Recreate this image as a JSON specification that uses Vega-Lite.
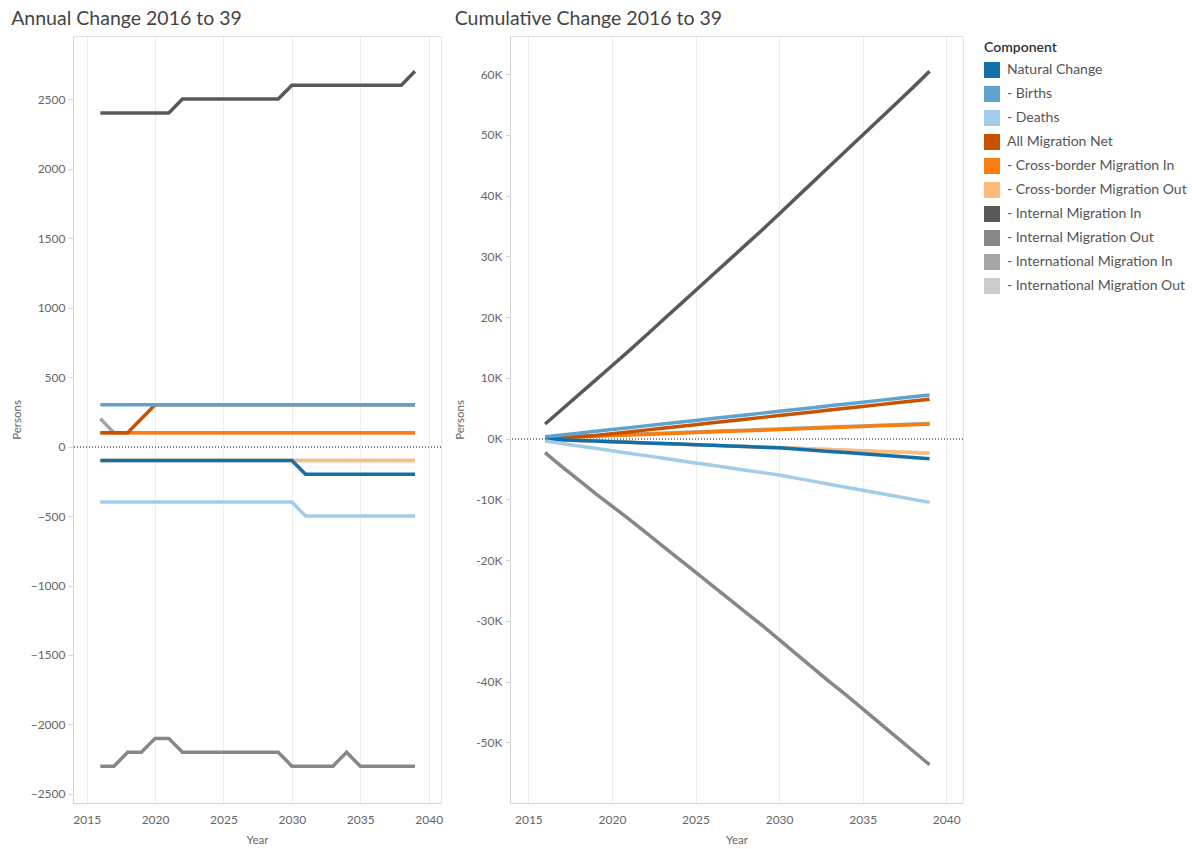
{
  "$schema": "https://vega.github.io/schema/vega-lite/v6.json",
  "padding": {"left": 10, "top": 8, "right": 2, "bottom": 0},
  "background": "white",
  "config": {
    "font": "Lato",
    "view": {"stroke": "#e2e2e2"},
    "axis": {"labelColor": "#666", "titleColor": "#666", "labelFontSize": 12, "titleFontSize": 11.5, "titleFontWeight": "normal", "gridColor": "#ececec", "domainColor": "#d4d4d4", "tickColor": "#d4d4d4", "labelFont": "Lato", "titleFont": "Lato"},
    "title": {"fontSize": 19.5, "fontWeight": "normal", "color": "#444", "anchor": "start", "frame": "bounds", "offset": 7, "font": "Lato"},
    "concat": {"spacing": 10}
  },
  "datasets": {
    "pop": [
      {"Year":2016,"Component":"Natural Change","Annual":-100,"Cumulative":-100},
      {"Year":2017,"Component":"Natural Change","Annual":-100,"Cumulative":-200},
      {"Year":2018,"Component":"Natural Change","Annual":-100,"Cumulative":-300},
      {"Year":2019,"Component":"Natural Change","Annual":-100,"Cumulative":-400},
      {"Year":2020,"Component":"Natural Change","Annual":-100,"Cumulative":-500},
      {"Year":2021,"Component":"Natural Change","Annual":-100,"Cumulative":-600},
      {"Year":2022,"Component":"Natural Change","Annual":-100,"Cumulative":-700},
      {"Year":2023,"Component":"Natural Change","Annual":-100,"Cumulative":-800},
      {"Year":2024,"Component":"Natural Change","Annual":-100,"Cumulative":-900},
      {"Year":2025,"Component":"Natural Change","Annual":-100,"Cumulative":-1000},
      {"Year":2026,"Component":"Natural Change","Annual":-100,"Cumulative":-1100},
      {"Year":2027,"Component":"Natural Change","Annual":-100,"Cumulative":-1200},
      {"Year":2028,"Component":"Natural Change","Annual":-100,"Cumulative":-1300},
      {"Year":2029,"Component":"Natural Change","Annual":-100,"Cumulative":-1400},
      {"Year":2030,"Component":"Natural Change","Annual":-100,"Cumulative":-1500},
      {"Year":2031,"Component":"Natural Change","Annual":-200,"Cumulative":-1700},
      {"Year":2032,"Component":"Natural Change","Annual":-200,"Cumulative":-1900},
      {"Year":2033,"Component":"Natural Change","Annual":-200,"Cumulative":-2100},
      {"Year":2034,"Component":"Natural Change","Annual":-200,"Cumulative":-2300},
      {"Year":2035,"Component":"Natural Change","Annual":-200,"Cumulative":-2500},
      {"Year":2036,"Component":"Natural Change","Annual":-200,"Cumulative":-2700},
      {"Year":2037,"Component":"Natural Change","Annual":-200,"Cumulative":-2900},
      {"Year":2038,"Component":"Natural Change","Annual":-200,"Cumulative":-3100},
      {"Year":2039,"Component":"Natural Change","Annual":-200,"Cumulative":-3300},

      {"Year":2016,"Component":"- Births","Annual":300,"Cumulative":300},
      {"Year":2017,"Component":"- Births","Annual":300,"Cumulative":600},
      {"Year":2018,"Component":"- Births","Annual":300,"Cumulative":900},
      {"Year":2019,"Component":"- Births","Annual":300,"Cumulative":1200},
      {"Year":2020,"Component":"- Births","Annual":300,"Cumulative":1500},
      {"Year":2021,"Component":"- Births","Annual":300,"Cumulative":1800},
      {"Year":2022,"Component":"- Births","Annual":300,"Cumulative":2100},
      {"Year":2023,"Component":"- Births","Annual":300,"Cumulative":2400},
      {"Year":2024,"Component":"- Births","Annual":300,"Cumulative":2700},
      {"Year":2025,"Component":"- Births","Annual":300,"Cumulative":3000},
      {"Year":2026,"Component":"- Births","Annual":300,"Cumulative":3300},
      {"Year":2027,"Component":"- Births","Annual":300,"Cumulative":3600},
      {"Year":2028,"Component":"- Births","Annual":300,"Cumulative":3900},
      {"Year":2029,"Component":"- Births","Annual":300,"Cumulative":4200},
      {"Year":2030,"Component":"- Births","Annual":300,"Cumulative":4500},
      {"Year":2031,"Component":"- Births","Annual":300,"Cumulative":4800},
      {"Year":2032,"Component":"- Births","Annual":300,"Cumulative":5100},
      {"Year":2033,"Component":"- Births","Annual":300,"Cumulative":5400},
      {"Year":2034,"Component":"- Births","Annual":300,"Cumulative":5700},
      {"Year":2035,"Component":"- Births","Annual":300,"Cumulative":6000},
      {"Year":2036,"Component":"- Births","Annual":300,"Cumulative":6300},
      {"Year":2037,"Component":"- Births","Annual":300,"Cumulative":6600},
      {"Year":2038,"Component":"- Births","Annual":300,"Cumulative":6900},
      {"Year":2039,"Component":"- Births","Annual":300,"Cumulative":7200},

      {"Year":2016,"Component":"- Deaths","Annual":-400,"Cumulative":-400},
      {"Year":2017,"Component":"- Deaths","Annual":-400,"Cumulative":-800},
      {"Year":2018,"Component":"- Deaths","Annual":-400,"Cumulative":-1200},
      {"Year":2019,"Component":"- Deaths","Annual":-400,"Cumulative":-1600},
      {"Year":2020,"Component":"- Deaths","Annual":-400,"Cumulative":-2000},
      {"Year":2021,"Component":"- Deaths","Annual":-400,"Cumulative":-2400},
      {"Year":2022,"Component":"- Deaths","Annual":-400,"Cumulative":-2800},
      {"Year":2023,"Component":"- Deaths","Annual":-400,"Cumulative":-3200},
      {"Year":2024,"Component":"- Deaths","Annual":-400,"Cumulative":-3600},
      {"Year":2025,"Component":"- Deaths","Annual":-400,"Cumulative":-4000},
      {"Year":2026,"Component":"- Deaths","Annual":-400,"Cumulative":-4400},
      {"Year":2027,"Component":"- Deaths","Annual":-400,"Cumulative":-4800},
      {"Year":2028,"Component":"- Deaths","Annual":-400,"Cumulative":-5200},
      {"Year":2029,"Component":"- Deaths","Annual":-400,"Cumulative":-5600},
      {"Year":2030,"Component":"- Deaths","Annual":-400,"Cumulative":-6000},
      {"Year":2031,"Component":"- Deaths","Annual":-500,"Cumulative":-6500},
      {"Year":2032,"Component":"- Deaths","Annual":-500,"Cumulative":-7000},
      {"Year":2033,"Component":"- Deaths","Annual":-500,"Cumulative":-7500},
      {"Year":2034,"Component":"- Deaths","Annual":-500,"Cumulative":-8000},
      {"Year":2035,"Component":"- Deaths","Annual":-500,"Cumulative":-8500},
      {"Year":2036,"Component":"- Deaths","Annual":-500,"Cumulative":-9000},
      {"Year":2037,"Component":"- Deaths","Annual":-500,"Cumulative":-9500},
      {"Year":2038,"Component":"- Deaths","Annual":-500,"Cumulative":-10000},
      {"Year":2039,"Component":"- Deaths","Annual":-500,"Cumulative":-10500},

      {"Year":2016,"Component":"All Migration Net","Annual":100,"Cumulative":100},
      {"Year":2017,"Component":"All Migration Net","Annual":100,"Cumulative":200},
      {"Year":2018,"Component":"All Migration Net","Annual":100,"Cumulative":300},
      {"Year":2019,"Component":"All Migration Net","Annual":200,"Cumulative":500},
      {"Year":2020,"Component":"All Migration Net","Annual":300,"Cumulative":800},
      {"Year":2021,"Component":"All Migration Net","Annual":300,"Cumulative":1100},
      {"Year":2022,"Component":"All Migration Net","Annual":300,"Cumulative":1400},
      {"Year":2023,"Component":"All Migration Net","Annual":300,"Cumulative":1700},
      {"Year":2024,"Component":"All Migration Net","Annual":300,"Cumulative":2000},
      {"Year":2025,"Component":"All Migration Net","Annual":300,"Cumulative":2300},
      {"Year":2026,"Component":"All Migration Net","Annual":300,"Cumulative":2600},
      {"Year":2027,"Component":"All Migration Net","Annual":300,"Cumulative":2900},
      {"Year":2028,"Component":"All Migration Net","Annual":300,"Cumulative":3200},
      {"Year":2029,"Component":"All Migration Net","Annual":300,"Cumulative":3500},
      {"Year":2030,"Component":"All Migration Net","Annual":300,"Cumulative":3800},
      {"Year":2031,"Component":"All Migration Net","Annual":300,"Cumulative":4100},
      {"Year":2032,"Component":"All Migration Net","Annual":300,"Cumulative":4400},
      {"Year":2033,"Component":"All Migration Net","Annual":300,"Cumulative":4700},
      {"Year":2034,"Component":"All Migration Net","Annual":300,"Cumulative":5000},
      {"Year":2035,"Component":"All Migration Net","Annual":300,"Cumulative":5300},
      {"Year":2036,"Component":"All Migration Net","Annual":300,"Cumulative":5600},
      {"Year":2037,"Component":"All Migration Net","Annual":300,"Cumulative":5900},
      {"Year":2038,"Component":"All Migration Net","Annual":300,"Cumulative":6200},
      {"Year":2039,"Component":"All Migration Net","Annual":300,"Cumulative":6500},

      {"Year":2016,"Component":"- Cross-border Migration In","Annual":100,"Cumulative":100},
      {"Year":2017,"Component":"- Cross-border Migration In","Annual":100,"Cumulative":200},
      {"Year":2018,"Component":"- Cross-border Migration In","Annual":100,"Cumulative":300},
      {"Year":2019,"Component":"- Cross-border Migration In","Annual":100,"Cumulative":400},
      {"Year":2020,"Component":"- Cross-border Migration In","Annual":100,"Cumulative":500},
      {"Year":2021,"Component":"- Cross-border Migration In","Annual":100,"Cumulative":600},
      {"Year":2022,"Component":"- Cross-border Migration In","Annual":100,"Cumulative":700},
      {"Year":2023,"Component":"- Cross-border Migration In","Annual":100,"Cumulative":800},
      {"Year":2024,"Component":"- Cross-border Migration In","Annual":100,"Cumulative":900},
      {"Year":2025,"Component":"- Cross-border Migration In","Annual":100,"Cumulative":1000},
      {"Year":2026,"Component":"- Cross-border Migration In","Annual":100,"Cumulative":1100},
      {"Year":2027,"Component":"- Cross-border Migration In","Annual":100,"Cumulative":1200},
      {"Year":2028,"Component":"- Cross-border Migration In","Annual":100,"Cumulative":1300},
      {"Year":2029,"Component":"- Cross-border Migration In","Annual":100,"Cumulative":1400},
      {"Year":2030,"Component":"- Cross-border Migration In","Annual":100,"Cumulative":1500},
      {"Year":2031,"Component":"- Cross-border Migration In","Annual":100,"Cumulative":1600},
      {"Year":2032,"Component":"- Cross-border Migration In","Annual":100,"Cumulative":1700},
      {"Year":2033,"Component":"- Cross-border Migration In","Annual":100,"Cumulative":1800},
      {"Year":2034,"Component":"- Cross-border Migration In","Annual":100,"Cumulative":1900},
      {"Year":2035,"Component":"- Cross-border Migration In","Annual":100,"Cumulative":2000},
      {"Year":2036,"Component":"- Cross-border Migration In","Annual":100,"Cumulative":2100},
      {"Year":2037,"Component":"- Cross-border Migration In","Annual":100,"Cumulative":2200},
      {"Year":2038,"Component":"- Cross-border Migration In","Annual":100,"Cumulative":2300},
      {"Year":2039,"Component":"- Cross-border Migration In","Annual":100,"Cumulative":2400},

      {"Year":2016,"Component":"- Cross-border Migration Out","Annual":-100,"Cumulative":-100},
      {"Year":2017,"Component":"- Cross-border Migration Out","Annual":-100,"Cumulative":-200},
      {"Year":2018,"Component":"- Cross-border Migration Out","Annual":-100,"Cumulative":-300},
      {"Year":2019,"Component":"- Cross-border Migration Out","Annual":-100,"Cumulative":-400},
      {"Year":2020,"Component":"- Cross-border Migration Out","Annual":-100,"Cumulative":-500},
      {"Year":2021,"Component":"- Cross-border Migration Out","Annual":-100,"Cumulative":-600},
      {"Year":2022,"Component":"- Cross-border Migration Out","Annual":-100,"Cumulative":-700},
      {"Year":2023,"Component":"- Cross-border Migration Out","Annual":-100,"Cumulative":-800},
      {"Year":2024,"Component":"- Cross-border Migration Out","Annual":-100,"Cumulative":-900},
      {"Year":2025,"Component":"- Cross-border Migration Out","Annual":-100,"Cumulative":-1000},
      {"Year":2026,"Component":"- Cross-border Migration Out","Annual":-100,"Cumulative":-1100},
      {"Year":2027,"Component":"- Cross-border Migration Out","Annual":-100,"Cumulative":-1200},
      {"Year":2028,"Component":"- Cross-border Migration Out","Annual":-100,"Cumulative":-1300},
      {"Year":2029,"Component":"- Cross-border Migration Out","Annual":-100,"Cumulative":-1400},
      {"Year":2030,"Component":"- Cross-border Migration Out","Annual":-100,"Cumulative":-1500},
      {"Year":2031,"Component":"- Cross-border Migration Out","Annual":-100,"Cumulative":-1600},
      {"Year":2032,"Component":"- Cross-border Migration Out","Annual":-100,"Cumulative":-1700},
      {"Year":2033,"Component":"- Cross-border Migration Out","Annual":-100,"Cumulative":-1800},
      {"Year":2034,"Component":"- Cross-border Migration Out","Annual":-100,"Cumulative":-1900},
      {"Year":2035,"Component":"- Cross-border Migration Out","Annual":-100,"Cumulative":-2000},
      {"Year":2036,"Component":"- Cross-border Migration Out","Annual":-100,"Cumulative":-2100},
      {"Year":2037,"Component":"- Cross-border Migration Out","Annual":-100,"Cumulative":-2200},
      {"Year":2038,"Component":"- Cross-border Migration Out","Annual":-100,"Cumulative":-2300},
      {"Year":2039,"Component":"- Cross-border Migration Out","Annual":-100,"Cumulative":-2400},

      {"Year":2016,"Component":"- Internal Migration In","Annual":2400,"Cumulative":2400},
      {"Year":2017,"Component":"- Internal Migration In","Annual":2400,"Cumulative":4800},
      {"Year":2018,"Component":"- Internal Migration In","Annual":2400,"Cumulative":7200},
      {"Year":2019,"Component":"- Internal Migration In","Annual":2400,"Cumulative":9600},
      {"Year":2020,"Component":"- Internal Migration In","Annual":2400,"Cumulative":12000},
      {"Year":2021,"Component":"- Internal Migration In","Annual":2400,"Cumulative":14400},
      {"Year":2022,"Component":"- Internal Migration In","Annual":2500,"Cumulative":16900},
      {"Year":2023,"Component":"- Internal Migration In","Annual":2500,"Cumulative":19400},
      {"Year":2024,"Component":"- Internal Migration In","Annual":2500,"Cumulative":21900},
      {"Year":2025,"Component":"- Internal Migration In","Annual":2500,"Cumulative":24400},
      {"Year":2026,"Component":"- Internal Migration In","Annual":2500,"Cumulative":26900},
      {"Year":2027,"Component":"- Internal Migration In","Annual":2500,"Cumulative":29400},
      {"Year":2028,"Component":"- Internal Migration In","Annual":2500,"Cumulative":31900},
      {"Year":2029,"Component":"- Internal Migration In","Annual":2500,"Cumulative":34400},
      {"Year":2030,"Component":"- Internal Migration In","Annual":2600,"Cumulative":37000},
      {"Year":2031,"Component":"- Internal Migration In","Annual":2600,"Cumulative":39600},
      {"Year":2032,"Component":"- Internal Migration In","Annual":2600,"Cumulative":42200},
      {"Year":2033,"Component":"- Internal Migration In","Annual":2600,"Cumulative":44800},
      {"Year":2034,"Component":"- Internal Migration In","Annual":2600,"Cumulative":47400},
      {"Year":2035,"Component":"- Internal Migration In","Annual":2600,"Cumulative":50000},
      {"Year":2036,"Component":"- Internal Migration In","Annual":2600,"Cumulative":52600},
      {"Year":2037,"Component":"- Internal Migration In","Annual":2600,"Cumulative":55200},
      {"Year":2038,"Component":"- Internal Migration In","Annual":2600,"Cumulative":57800},
      {"Year":2039,"Component":"- Internal Migration In","Annual":2700,"Cumulative":60500},

      {"Year":2016,"Component":"- Internal Migration Out","Annual":-2300,"Cumulative":-2300},
      {"Year":2017,"Component":"- Internal Migration Out","Annual":-2300,"Cumulative":-4600},
      {"Year":2018,"Component":"- Internal Migration Out","Annual":-2200,"Cumulative":-6800},
      {"Year":2019,"Component":"- Internal Migration Out","Annual":-2200,"Cumulative":-9000},
      {"Year":2020,"Component":"- Internal Migration Out","Annual":-2100,"Cumulative":-11100},
      {"Year":2021,"Component":"- Internal Migration Out","Annual":-2100,"Cumulative":-13200},
      {"Year":2022,"Component":"- Internal Migration Out","Annual":-2200,"Cumulative":-15400},
      {"Year":2023,"Component":"- Internal Migration Out","Annual":-2200,"Cumulative":-17600},
      {"Year":2024,"Component":"- Internal Migration Out","Annual":-2200,"Cumulative":-19800},
      {"Year":2025,"Component":"- Internal Migration Out","Annual":-2200,"Cumulative":-22000},
      {"Year":2026,"Component":"- Internal Migration Out","Annual":-2200,"Cumulative":-24200},
      {"Year":2027,"Component":"- Internal Migration Out","Annual":-2200,"Cumulative":-26400},
      {"Year":2028,"Component":"- Internal Migration Out","Annual":-2200,"Cumulative":-28600},
      {"Year":2029,"Component":"- Internal Migration Out","Annual":-2200,"Cumulative":-30800},
      {"Year":2030,"Component":"- Internal Migration Out","Annual":-2300,"Cumulative":-33100},
      {"Year":2031,"Component":"- Internal Migration Out","Annual":-2300,"Cumulative":-35400},
      {"Year":2032,"Component":"- Internal Migration Out","Annual":-2300,"Cumulative":-37700},
      {"Year":2033,"Component":"- Internal Migration Out","Annual":-2300,"Cumulative":-40000},
      {"Year":2034,"Component":"- Internal Migration Out","Annual":-2200,"Cumulative":-42200},
      {"Year":2035,"Component":"- Internal Migration Out","Annual":-2300,"Cumulative":-44500},
      {"Year":2036,"Component":"- Internal Migration Out","Annual":-2300,"Cumulative":-46800},
      {"Year":2037,"Component":"- Internal Migration Out","Annual":-2300,"Cumulative":-49100},
      {"Year":2038,"Component":"- Internal Migration Out","Annual":-2300,"Cumulative":-51400},
      {"Year":2039,"Component":"- Internal Migration Out","Annual":-2300,"Cumulative":-53700},

      {"Year":2016,"Component":"- International Migration In","Annual":200,"Cumulative":200},
      {"Year":2017,"Component":"- International Migration In","Annual":100,"Cumulative":300},
      {"Year":2018,"Component":"- International Migration In","Annual":100,"Cumulative":400},
      {"Year":2019,"Component":"- International Migration In","Annual":100,"Cumulative":500},
      {"Year":2020,"Component":"- International Migration In","Annual":100,"Cumulative":600},
      {"Year":2021,"Component":"- International Migration In","Annual":100,"Cumulative":700},
      {"Year":2022,"Component":"- International Migration In","Annual":100,"Cumulative":800},
      {"Year":2023,"Component":"- International Migration In","Annual":100,"Cumulative":900},
      {"Year":2024,"Component":"- International Migration In","Annual":100,"Cumulative":1000},
      {"Year":2025,"Component":"- International Migration In","Annual":100,"Cumulative":1100},
      {"Year":2026,"Component":"- International Migration In","Annual":100,"Cumulative":1200},
      {"Year":2027,"Component":"- International Migration In","Annual":100,"Cumulative":1300},
      {"Year":2028,"Component":"- International Migration In","Annual":100,"Cumulative":1400},
      {"Year":2029,"Component":"- International Migration In","Annual":100,"Cumulative":1500},
      {"Year":2030,"Component":"- International Migration In","Annual":100,"Cumulative":1600},
      {"Year":2031,"Component":"- International Migration In","Annual":100,"Cumulative":1700},
      {"Year":2032,"Component":"- International Migration In","Annual":100,"Cumulative":1800},
      {"Year":2033,"Component":"- International Migration In","Annual":100,"Cumulative":1900},
      {"Year":2034,"Component":"- International Migration In","Annual":100,"Cumulative":2000},
      {"Year":2035,"Component":"- International Migration In","Annual":100,"Cumulative":2100},
      {"Year":2036,"Component":"- International Migration In","Annual":100,"Cumulative":2200},
      {"Year":2037,"Component":"- International Migration In","Annual":100,"Cumulative":2300},
      {"Year":2038,"Component":"- International Migration In","Annual":100,"Cumulative":2400},
      {"Year":2039,"Component":"- International Migration In","Annual":100,"Cumulative":2500},

      {"Year":2016,"Component":"- International Migration Out","Annual":-100,"Cumulative":-100},
      {"Year":2017,"Component":"- International Migration Out","Annual":-100,"Cumulative":-200},
      {"Year":2018,"Component":"- International Migration Out","Annual":-100,"Cumulative":-300},
      {"Year":2019,"Component":"- International Migration Out","Annual":-100,"Cumulative":-400},
      {"Year":2020,"Component":"- International Migration Out","Annual":-100,"Cumulative":-500},
      {"Year":2021,"Component":"- International Migration Out","Annual":-100,"Cumulative":-600},
      {"Year":2022,"Component":"- International Migration Out","Annual":-100,"Cumulative":-700},
      {"Year":2023,"Component":"- International Migration Out","Annual":-100,"Cumulative":-800},
      {"Year":2024,"Component":"- International Migration Out","Annual":-100,"Cumulative":-900},
      {"Year":2025,"Component":"- International Migration Out","Annual":-100,"Cumulative":-1000},
      {"Year":2026,"Component":"- International Migration Out","Annual":-100,"Cumulative":-1100},
      {"Year":2027,"Component":"- International Migration Out","Annual":-100,"Cumulative":-1200},
      {"Year":2028,"Component":"- International Migration Out","Annual":-100,"Cumulative":-1300},
      {"Year":2029,"Component":"- International Migration Out","Annual":-100,"Cumulative":-1400},
      {"Year":2030,"Component":"- International Migration Out","Annual":-100,"Cumulative":-1500},
      {"Year":2031,"Component":"- International Migration Out","Annual":-100,"Cumulative":-1600},
      {"Year":2032,"Component":"- International Migration Out","Annual":-100,"Cumulative":-1700},
      {"Year":2033,"Component":"- International Migration Out","Annual":-100,"Cumulative":-1800},
      {"Year":2034,"Component":"- International Migration Out","Annual":-100,"Cumulative":-1900},
      {"Year":2035,"Component":"- International Migration Out","Annual":-100,"Cumulative":-2000},
      {"Year":2036,"Component":"- International Migration Out","Annual":-100,"Cumulative":-2100},
      {"Year":2037,"Component":"- International Migration Out","Annual":-100,"Cumulative":-2200},
      {"Year":2038,"Component":"- International Migration Out","Annual":-100,"Cumulative":-2300},
      {"Year":2039,"Component":"- International Migration Out","Annual":-100,"Cumulative":-2400}
    ]
  },
  "data": {"name": "pop"},
  "hconcat": [
    {
      "width": 368,
      "height": 767,
      "title": {"text": "Annual Change 2016 to 39"},
      "layer": [
        {
          "mark": {"type": "rule", "color": "#888", "strokeDash": [1, 2], "strokeWidth": 1},
          "encoding": {"y": {"datum": 0, "type": "quantitative", "scale": {"domain": [-2565, 2954], "nice": false}}}
        },
        {
          "encoding": {
            "x": {"field": "Year", "type": "quantitative", "scale": {"domain": [2014, 2040.9], "nice": false, "zero": false},
                  "axis": {"values": [2015, 2020, 2025, 2030, 2035, 2040], "format": "d", "ticks": false, "title": "Year", "labelPadding": 11, "titlePadding": 9}},
            "y": {"field": "Annual", "type": "quantitative", "scale": {"domain": [-2565, 2954], "nice": false},
                  "axis": {"values": [-2500, -2000, -1500, -1000, -500, 0, 500, 1000, 1500, 2000, 2500], "format": "d", "title": "Persons", "tickSize": 5, "labelPadding": 3, "titlePadding": 8}},
            "color": {
              "field": "Component", "type": "nominal",
              "scale": {
                "domain": ["Natural Change", "- Births", "- Deaths", "All Migration Net", "- Cross-border Migration In", "- Cross-border Migration Out", "- Internal Migration In", "- Internal Migration Out", "- International Migration In", "- International Migration Out"],
                "range": ["#1170aa", "#5fa2ce", "#a3cce9", "#c85200", "#fc7d0b", "#ffbc79", "#595959", "#878787", "#a5a5a5", "#cccccc"]
              },
              "legend": {
                "title": "Component", "orient": "right", "offset": 15, "padding": 5, "symbolType": "square", "symbolSize": 256,
                "rowPadding": 8, "labelFontSize": 14, "titleFontSize": 14, "titleFontWeight": 600, "labelColor": "#555", "titleColor": "#333",
                "labelOffset": 7, "titlePadding": 7, "labelLimit": 250,
                "labelExpr": "indexof(datum.label, '-') == 0 ? '\u00a0' + datum.label : datum.label",
                "encode": {"symbols": {"update": {"fill": {"scale": "color", "field": "value"}, "strokeWidth": {"value": 0}, "opacity": {"value": 1}}}}
              }
            }
          },
          "layer": [
            {"transform": [{"filter": {"field": "Component", "oneOf": ["- International Migration In", "- International Migration Out"]}}], "mark": {"type": "line", "strokeWidth": 3.5}},
            {"transform": [{"filter": {"field": "Component", "oneOf": ["- Cross-border Migration In", "- Cross-border Migration Out"]}}], "mark": {"type": "line", "strokeWidth": 3.5}},
            {"transform": [{"filter": {"field": "Component", "oneOf": ["All Migration Net"]}}], "mark": {"type": "line", "strokeWidth": 3.5}},
            {"transform": [{"filter": {"field": "Component", "oneOf": ["- Births", "- Deaths", "Natural Change", "- Internal Migration In", "- Internal Migration Out"]}}], "mark": {"type": "line", "strokeWidth": 3.5}}
          ]
        }
      ]
    },
    {
      "width": 453,
      "height": 767,
      "title": {"text": "Cumulative Change 2016 to 39"},
      "layer": [
        {
          "mark": {"type": "rule", "color": "#888", "strokeDash": [1, 2], "strokeWidth": 1},
          "encoding": {"y": {"datum": 0, "type": "quantitative", "scale": {"domain": [-60000, 66300], "nice": false}}}
        },
        {
          "encoding": {
            "x": {"field": "Year", "type": "quantitative", "scale": {"domain": [2013.9, 2041], "nice": false, "zero": false},
                  "axis": {"values": [2015, 2020, 2025, 2030, 2035, 2040], "format": "d", "ticks": false, "title": "Year", "labelPadding": 11, "titlePadding": 9}},
            "y": {"field": "Cumulative", "type": "quantitative", "scale": {"domain": [-60000, 66300], "nice": false},
                  "axis": {"values": [-50000, -40000, -30000, -20000, -10000, 0, 10000, 20000, 30000, 40000, 50000, 60000], "labelExpr": "(datum.value / 1000) + 'K'", "title": "Persons", "tickSize": 5, "labelPadding": 3, "titlePadding": 10}},
            "color": {"field": "Component", "type": "nominal"}
          },
          "layer": [
            {"transform": [{"filter": {"field": "Component", "oneOf": ["- International Migration In", "- International Migration Out"]}}], "mark": {"type": "line", "strokeWidth": 3.5}},
            {"transform": [{"filter": {"field": "Component", "oneOf": ["- Cross-border Migration In", "- Cross-border Migration Out"]}}], "mark": {"type": "line", "strokeWidth": 3.5}},
            {"transform": [{"filter": {"field": "Component", "oneOf": ["All Migration Net"]}}], "mark": {"type": "line", "strokeWidth": 3.5}},
            {"transform": [{"filter": {"field": "Component", "oneOf": ["- Births", "- Deaths", "Natural Change", "- Internal Migration In", "- Internal Migration Out"]}}], "mark": {"type": "line", "strokeWidth": 3.5}}
          ]
        }
      ]
    }
  ]
}
